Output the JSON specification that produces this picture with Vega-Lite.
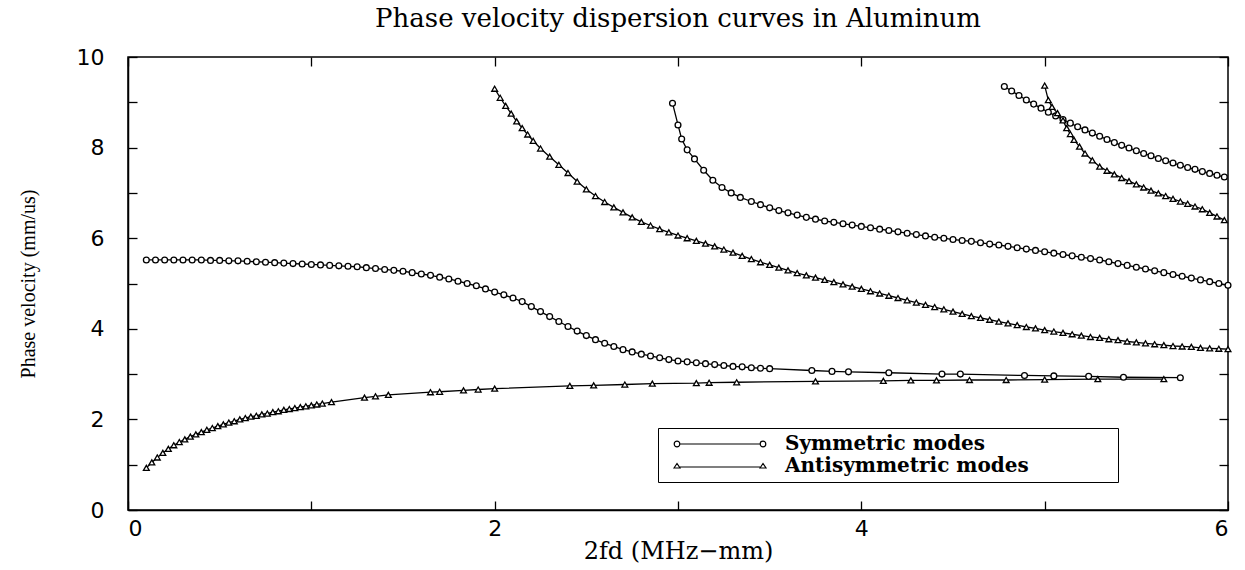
{
  "$schema": "https://vega.github.io/schema/vega-lite/v6.json",
  "width": 1100,
  "height": 453,
  "autosize": {"type": "none"},
  "padding": {"left": 128, "top": 57, "right": 17, "bottom": 60},
  "background": "white",
  "config": {
    "view": {"stroke": "black", "strokeWidth": 1.5},
    "axis": {"grid": false, "domainColor": "black", "tickColor": "black", "labelColor": "black", "titleColor": "black", "tickWidth": 1.3}
  },
  "title": {"text": "Phase velocity dispersion curves in Aluminum", "font": "DejaVu Serif", "fontSize": 26, "fontWeight": "normal", "color": "black", "offset": 14, "anchor": "middle"},
  "data": {"values": [
    {"mode":"S0","family":"Symmetric modes","fd":0.10,"vel":5.52},
    {"mode":"S0","family":"Symmetric modes","fd":0.15,"vel":5.52},
    {"mode":"S0","family":"Symmetric modes","fd":0.20,"vel":5.52},
    {"mode":"S0","family":"Symmetric modes","fd":0.25,"vel":5.52},
    {"mode":"S0","family":"Symmetric modes","fd":0.30,"vel":5.52},
    {"mode":"S0","family":"Symmetric modes","fd":0.35,"vel":5.52},
    {"mode":"S0","family":"Symmetric modes","fd":0.40,"vel":5.52},
    {"mode":"S0","family":"Symmetric modes","fd":0.45,"vel":5.51},
    {"mode":"S0","family":"Symmetric modes","fd":0.50,"vel":5.51},
    {"mode":"S0","family":"Symmetric modes","fd":0.55,"vel":5.50},
    {"mode":"S0","family":"Symmetric modes","fd":0.60,"vel":5.50},
    {"mode":"S0","family":"Symmetric modes","fd":0.65,"vel":5.49},
    {"mode":"S0","family":"Symmetric modes","fd":0.70,"vel":5.48},
    {"mode":"S0","family":"Symmetric modes","fd":0.75,"vel":5.47},
    {"mode":"S0","family":"Symmetric modes","fd":0.80,"vel":5.46},
    {"mode":"S0","family":"Symmetric modes","fd":0.85,"vel":5.45},
    {"mode":"S0","family":"Symmetric modes","fd":0.90,"vel":5.44},
    {"mode":"S0","family":"Symmetric modes","fd":0.95,"vel":5.43},
    {"mode":"S0","family":"Symmetric modes","fd":1.00,"vel":5.42},
    {"mode":"S0","family":"Symmetric modes","fd":1.05,"vel":5.41},
    {"mode":"S0","family":"Symmetric modes","fd":1.10,"vel":5.40},
    {"mode":"S0","family":"Symmetric modes","fd":1.15,"vel":5.39},
    {"mode":"S0","family":"Symmetric modes","fd":1.20,"vel":5.38},
    {"mode":"S0","family":"Symmetric modes","fd":1.25,"vel":5.37},
    {"mode":"S0","family":"Symmetric modes","fd":1.30,"vel":5.35},
    {"mode":"S0","family":"Symmetric modes","fd":1.35,"vel":5.33},
    {"mode":"S0","family":"Symmetric modes","fd":1.40,"vel":5.31},
    {"mode":"S0","family":"Symmetric modes","fd":1.45,"vel":5.29},
    {"mode":"S0","family":"Symmetric modes","fd":1.50,"vel":5.27},
    {"mode":"S0","family":"Symmetric modes","fd":1.55,"vel":5.24},
    {"mode":"S0","family":"Symmetric modes","fd":1.60,"vel":5.21},
    {"mode":"S0","family":"Symmetric modes","fd":1.65,"vel":5.18},
    {"mode":"S0","family":"Symmetric modes","fd":1.70,"vel":5.14},
    {"mode":"S0","family":"Symmetric modes","fd":1.75,"vel":5.10},
    {"mode":"S0","family":"Symmetric modes","fd":1.80,"vel":5.05},
    {"mode":"S0","family":"Symmetric modes","fd":1.85,"vel":5.00},
    {"mode":"S0","family":"Symmetric modes","fd":1.90,"vel":4.95},
    {"mode":"S0","family":"Symmetric modes","fd":1.95,"vel":4.88},
    {"mode":"S0","family":"Symmetric modes","fd":2.00,"vel":4.81},
    {"mode":"S0","family":"Symmetric modes","fd":2.05,"vel":4.75},
    {"mode":"S0","family":"Symmetric modes","fd":2.10,"vel":4.68},
    {"mode":"S0","family":"Symmetric modes","fd":2.15,"vel":4.60},
    {"mode":"S0","family":"Symmetric modes","fd":2.20,"vel":4.49},
    {"mode":"S0","family":"Symmetric modes","fd":2.25,"vel":4.38},
    {"mode":"S0","family":"Symmetric modes","fd":2.30,"vel":4.27},
    {"mode":"S0","family":"Symmetric modes","fd":2.35,"vel":4.16},
    {"mode":"S0","family":"Symmetric modes","fd":2.40,"vel":4.05},
    {"mode":"S0","family":"Symmetric modes","fd":2.45,"vel":3.95},
    {"mode":"S0","family":"Symmetric modes","fd":2.50,"vel":3.85},
    {"mode":"S0","family":"Symmetric modes","fd":2.55,"vel":3.76},
    {"mode":"S0","family":"Symmetric modes","fd":2.60,"vel":3.68},
    {"mode":"S0","family":"Symmetric modes","fd":2.65,"vel":3.61},
    {"mode":"S0","family":"Symmetric modes","fd":2.70,"vel":3.54},
    {"mode":"S0","family":"Symmetric modes","fd":2.75,"vel":3.49},
    {"mode":"S0","family":"Symmetric modes","fd":2.80,"vel":3.44},
    {"mode":"S0","family":"Symmetric modes","fd":2.85,"vel":3.40},
    {"mode":"S0","family":"Symmetric modes","fd":2.90,"vel":3.36},
    {"mode":"S0","family":"Symmetric modes","fd":2.95,"vel":3.32},
    {"mode":"S0","family":"Symmetric modes","fd":3.00,"vel":3.29},
    {"mode":"S0","family":"Symmetric modes","fd":3.05,"vel":3.27},
    {"mode":"S0","family":"Symmetric modes","fd":3.10,"vel":3.25},
    {"mode":"S0","family":"Symmetric modes","fd":3.15,"vel":3.23},
    {"mode":"S0","family":"Symmetric modes","fd":3.20,"vel":3.21},
    {"mode":"S0","family":"Symmetric modes","fd":3.25,"vel":3.19},
    {"mode":"S0","family":"Symmetric modes","fd":3.30,"vel":3.17},
    {"mode":"S0","family":"Symmetric modes","fd":3.35,"vel":3.16},
    {"mode":"S0","family":"Symmetric modes","fd":3.40,"vel":3.14},
    {"mode":"S0","family":"Symmetric modes","fd":3.45,"vel":3.13},
    {"mode":"S0","family":"Symmetric modes","fd":3.50,"vel":3.12},
    {"mode":"S0","family":"Symmetric modes","fd":3.73,"vel":3.08},
    {"mode":"S0","family":"Symmetric modes","fd":3.84,"vel":3.06},
    {"mode":"S0","family":"Symmetric modes","fd":3.93,"vel":3.05},
    {"mode":"S0","family":"Symmetric modes","fd":4.15,"vel":3.03},
    {"mode":"S0","family":"Symmetric modes","fd":4.44,"vel":3.00},
    {"mode":"S0","family":"Symmetric modes","fd":4.54,"vel":3.00},
    {"mode":"S0","family":"Symmetric modes","fd":4.89,"vel":2.97},
    {"mode":"S0","family":"Symmetric modes","fd":5.05,"vel":2.96},
    {"mode":"S0","family":"Symmetric modes","fd":5.24,"vel":2.95},
    {"mode":"S0","family":"Symmetric modes","fd":5.43,"vel":2.93},
    {"mode":"S0","family":"Symmetric modes","fd":5.74,"vel":2.92},
    {"mode":"A0","family":"Antisymmetric modes","fd":0.10,"vel":0.93},
    {"mode":"A0","family":"Antisymmetric modes","fd":0.13,"vel":1.05},
    {"mode":"A0","family":"Antisymmetric modes","fd":0.16,"vel":1.16},
    {"mode":"A0","family":"Antisymmetric modes","fd":0.19,"vel":1.26},
    {"mode":"A0","family":"Antisymmetric modes","fd":0.22,"vel":1.35},
    {"mode":"A0","family":"Antisymmetric modes","fd":0.25,"vel":1.43},
    {"mode":"A0","family":"Antisymmetric modes","fd":0.28,"vel":1.50},
    {"mode":"A0","family":"Antisymmetric modes","fd":0.31,"vel":1.56},
    {"mode":"A0","family":"Antisymmetric modes","fd":0.34,"vel":1.62},
    {"mode":"A0","family":"Antisymmetric modes","fd":0.37,"vel":1.67},
    {"mode":"A0","family":"Antisymmetric modes","fd":0.40,"vel":1.72},
    {"mode":"A0","family":"Antisymmetric modes","fd":0.43,"vel":1.77},
    {"mode":"A0","family":"Antisymmetric modes","fd":0.46,"vel":1.81},
    {"mode":"A0","family":"Antisymmetric modes","fd":0.49,"vel":1.85},
    {"mode":"A0","family":"Antisymmetric modes","fd":0.52,"vel":1.89},
    {"mode":"A0","family":"Antisymmetric modes","fd":0.55,"vel":1.93},
    {"mode":"A0","family":"Antisymmetric modes","fd":0.58,"vel":1.96},
    {"mode":"A0","family":"Antisymmetric modes","fd":0.61,"vel":2.00},
    {"mode":"A0","family":"Antisymmetric modes","fd":0.64,"vel":2.03},
    {"mode":"A0","family":"Antisymmetric modes","fd":0.67,"vel":2.06},
    {"mode":"A0","family":"Antisymmetric modes","fd":0.70,"vel":2.08},
    {"mode":"A0","family":"Antisymmetric modes","fd":0.73,"vel":2.11},
    {"mode":"A0","family":"Antisymmetric modes","fd":0.76,"vel":2.13},
    {"mode":"A0","family":"Antisymmetric modes","fd":0.79,"vel":2.16},
    {"mode":"A0","family":"Antisymmetric modes","fd":0.82,"vel":2.18},
    {"mode":"A0","family":"Antisymmetric modes","fd":0.85,"vel":2.21},
    {"mode":"A0","family":"Antisymmetric modes","fd":0.88,"vel":2.23},
    {"mode":"A0","family":"Antisymmetric modes","fd":0.91,"vel":2.25},
    {"mode":"A0","family":"Antisymmetric modes","fd":0.94,"vel":2.27},
    {"mode":"A0","family":"Antisymmetric modes","fd":0.97,"vel":2.29},
    {"mode":"A0","family":"Antisymmetric modes","fd":1.00,"vel":2.31},
    {"mode":"A0","family":"Antisymmetric modes","fd":1.03,"vel":2.33},
    {"mode":"A0","family":"Antisymmetric modes","fd":1.06,"vel":2.35},
    {"mode":"A0","family":"Antisymmetric modes","fd":1.11,"vel":2.38},
    {"mode":"A0","family":"Antisymmetric modes","fd":1.29,"vel":2.48},
    {"mode":"A0","family":"Antisymmetric modes","fd":1.35,"vel":2.51},
    {"mode":"A0","family":"Antisymmetric modes","fd":1.42,"vel":2.54},
    {"mode":"A0","family":"Antisymmetric modes","fd":1.65,"vel":2.60},
    {"mode":"A0","family":"Antisymmetric modes","fd":1.70,"vel":2.61},
    {"mode":"A0","family":"Antisymmetric modes","fd":1.83,"vel":2.64},
    {"mode":"A0","family":"Antisymmetric modes","fd":1.91,"vel":2.66},
    {"mode":"A0","family":"Antisymmetric modes","fd":2.00,"vel":2.68},
    {"mode":"A0","family":"Antisymmetric modes","fd":2.41,"vel":2.74},
    {"mode":"A0","family":"Antisymmetric modes","fd":2.54,"vel":2.75},
    {"mode":"A0","family":"Antisymmetric modes","fd":2.71,"vel":2.77},
    {"mode":"A0","family":"Antisymmetric modes","fd":2.86,"vel":2.79},
    {"mode":"A0","family":"Antisymmetric modes","fd":3.10,"vel":2.80},
    {"mode":"A0","family":"Antisymmetric modes","fd":3.17,"vel":2.81},
    {"mode":"A0","family":"Antisymmetric modes","fd":3.32,"vel":2.82},
    {"mode":"A0","family":"Antisymmetric modes","fd":3.75,"vel":2.84},
    {"mode":"A0","family":"Antisymmetric modes","fd":4.12,"vel":2.85},
    {"mode":"A0","family":"Antisymmetric modes","fd":4.27,"vel":2.86},
    {"mode":"A0","family":"Antisymmetric modes","fd":4.41,"vel":2.86},
    {"mode":"A0","family":"Antisymmetric modes","fd":4.59,"vel":2.87},
    {"mode":"A0","family":"Antisymmetric modes","fd":4.79,"vel":2.87},
    {"mode":"A0","family":"Antisymmetric modes","fd":5.00,"vel":2.88},
    {"mode":"A0","family":"Antisymmetric modes","fd":5.29,"vel":2.89},
    {"mode":"A0","family":"Antisymmetric modes","fd":5.65,"vel":2.89},
    {"mode":"A1","family":"Antisymmetric modes","fd":2.00,"vel":9.30},
    {"mode":"A1","family":"Antisymmetric modes","fd":2.03,"vel":9.10},
    {"mode":"A1","family":"Antisymmetric modes","fd":2.06,"vel":8.92},
    {"mode":"A1","family":"Antisymmetric modes","fd":2.09,"vel":8.75},
    {"mode":"A1","family":"Antisymmetric modes","fd":2.12,"vel":8.58},
    {"mode":"A1","family":"Antisymmetric modes","fd":2.15,"vel":8.43},
    {"mode":"A1","family":"Antisymmetric modes","fd":2.18,"vel":8.29},
    {"mode":"A1","family":"Antisymmetric modes","fd":2.21,"vel":8.15},
    {"mode":"A1","family":"Antisymmetric modes","fd":2.25,"vel":7.98},
    {"mode":"A1","family":"Antisymmetric modes","fd":2.30,"vel":7.80},
    {"mode":"A1","family":"Antisymmetric modes","fd":2.35,"vel":7.62},
    {"mode":"A1","family":"Antisymmetric modes","fd":2.40,"vel":7.44},
    {"mode":"A1","family":"Antisymmetric modes","fd":2.45,"vel":7.25},
    {"mode":"A1","family":"Antisymmetric modes","fd":2.50,"vel":7.08},
    {"mode":"A1","family":"Antisymmetric modes","fd":2.55,"vel":6.93},
    {"mode":"A1","family":"Antisymmetric modes","fd":2.60,"vel":6.80},
    {"mode":"A1","family":"Antisymmetric modes","fd":2.65,"vel":6.68},
    {"mode":"A1","family":"Antisymmetric modes","fd":2.70,"vel":6.57},
    {"mode":"A1","family":"Antisymmetric modes","fd":2.75,"vel":6.46},
    {"mode":"A1","family":"Antisymmetric modes","fd":2.80,"vel":6.36},
    {"mode":"A1","family":"Antisymmetric modes","fd":2.85,"vel":6.28},
    {"mode":"A1","family":"Antisymmetric modes","fd":2.90,"vel":6.20},
    {"mode":"A1","family":"Antisymmetric modes","fd":2.95,"vel":6.13},
    {"mode":"A1","family":"Antisymmetric modes","fd":3.00,"vel":6.06},
    {"mode":"A1","family":"Antisymmetric modes","fd":3.05,"vel":6.00},
    {"mode":"A1","family":"Antisymmetric modes","fd":3.10,"vel":5.94},
    {"mode":"A1","family":"Antisymmetric modes","fd":3.15,"vel":5.88},
    {"mode":"A1","family":"Antisymmetric modes","fd":3.20,"vel":5.82},
    {"mode":"A1","family":"Antisymmetric modes","fd":3.25,"vel":5.75},
    {"mode":"A1","family":"Antisymmetric modes","fd":3.30,"vel":5.68},
    {"mode":"A1","family":"Antisymmetric modes","fd":3.35,"vel":5.61},
    {"mode":"A1","family":"Antisymmetric modes","fd":3.40,"vel":5.54},
    {"mode":"A1","family":"Antisymmetric modes","fd":3.45,"vel":5.47},
    {"mode":"A1","family":"Antisymmetric modes","fd":3.50,"vel":5.41},
    {"mode":"A1","family":"Antisymmetric modes","fd":3.55,"vel":5.35},
    {"mode":"A1","family":"Antisymmetric modes","fd":3.60,"vel":5.29},
    {"mode":"A1","family":"Antisymmetric modes","fd":3.65,"vel":5.23},
    {"mode":"A1","family":"Antisymmetric modes","fd":3.70,"vel":5.18},
    {"mode":"A1","family":"Antisymmetric modes","fd":3.75,"vel":5.13},
    {"mode":"A1","family":"Antisymmetric modes","fd":3.80,"vel":5.08},
    {"mode":"A1","family":"Antisymmetric modes","fd":3.85,"vel":5.03},
    {"mode":"A1","family":"Antisymmetric modes","fd":3.90,"vel":4.98},
    {"mode":"A1","family":"Antisymmetric modes","fd":3.95,"vel":4.93},
    {"mode":"A1","family":"Antisymmetric modes","fd":4.00,"vel":4.88},
    {"mode":"A1","family":"Antisymmetric modes","fd":4.05,"vel":4.83},
    {"mode":"A1","family":"Antisymmetric modes","fd":4.10,"vel":4.78},
    {"mode":"A1","family":"Antisymmetric modes","fd":4.15,"vel":4.73},
    {"mode":"A1","family":"Antisymmetric modes","fd":4.20,"vel":4.68},
    {"mode":"A1","family":"Antisymmetric modes","fd":4.25,"vel":4.63},
    {"mode":"A1","family":"Antisymmetric modes","fd":4.30,"vel":4.58},
    {"mode":"A1","family":"Antisymmetric modes","fd":4.35,"vel":4.53},
    {"mode":"A1","family":"Antisymmetric modes","fd":4.40,"vel":4.48},
    {"mode":"A1","family":"Antisymmetric modes","fd":4.45,"vel":4.43},
    {"mode":"A1","family":"Antisymmetric modes","fd":4.50,"vel":4.38},
    {"mode":"A1","family":"Antisymmetric modes","fd":4.55,"vel":4.33},
    {"mode":"A1","family":"Antisymmetric modes","fd":4.60,"vel":4.28},
    {"mode":"A1","family":"Antisymmetric modes","fd":4.65,"vel":4.24},
    {"mode":"A1","family":"Antisymmetric modes","fd":4.70,"vel":4.20},
    {"mode":"A1","family":"Antisymmetric modes","fd":4.75,"vel":4.16},
    {"mode":"A1","family":"Antisymmetric modes","fd":4.80,"vel":4.12},
    {"mode":"A1","family":"Antisymmetric modes","fd":4.85,"vel":4.08},
    {"mode":"A1","family":"Antisymmetric modes","fd":4.90,"vel":4.04},
    {"mode":"A1","family":"Antisymmetric modes","fd":4.95,"vel":4.01},
    {"mode":"A1","family":"Antisymmetric modes","fd":5.00,"vel":3.97},
    {"mode":"A1","family":"Antisymmetric modes","fd":5.05,"vel":3.94},
    {"mode":"A1","family":"Antisymmetric modes","fd":5.10,"vel":3.91},
    {"mode":"A1","family":"Antisymmetric modes","fd":5.15,"vel":3.88},
    {"mode":"A1","family":"Antisymmetric modes","fd":5.20,"vel":3.85},
    {"mode":"A1","family":"Antisymmetric modes","fd":5.25,"vel":3.82},
    {"mode":"A1","family":"Antisymmetric modes","fd":5.30,"vel":3.80},
    {"mode":"A1","family":"Antisymmetric modes","fd":5.35,"vel":3.77},
    {"mode":"A1","family":"Antisymmetric modes","fd":5.40,"vel":3.75},
    {"mode":"A1","family":"Antisymmetric modes","fd":5.45,"vel":3.72},
    {"mode":"A1","family":"Antisymmetric modes","fd":5.50,"vel":3.70},
    {"mode":"A1","family":"Antisymmetric modes","fd":5.55,"vel":3.68},
    {"mode":"A1","family":"Antisymmetric modes","fd":5.60,"vel":3.66},
    {"mode":"A1","family":"Antisymmetric modes","fd":5.65,"vel":3.64},
    {"mode":"A1","family":"Antisymmetric modes","fd":5.70,"vel":3.62},
    {"mode":"A1","family":"Antisymmetric modes","fd":5.75,"vel":3.61},
    {"mode":"A1","family":"Antisymmetric modes","fd":5.80,"vel":3.60},
    {"mode":"A1","family":"Antisymmetric modes","fd":5.85,"vel":3.58},
    {"mode":"A1","family":"Antisymmetric modes","fd":5.90,"vel":3.57},
    {"mode":"A1","family":"Antisymmetric modes","fd":5.95,"vel":3.56},
    {"mode":"A1","family":"Antisymmetric modes","fd":6.00,"vel":3.55},
    {"mode":"S1","family":"Symmetric modes","fd":2.97,"vel":8.98},
    {"mode":"S1","family":"Symmetric modes","fd":3.00,"vel":8.50},
    {"mode":"S1","family":"Symmetric modes","fd":3.02,"vel":8.19},
    {"mode":"S1","family":"Symmetric modes","fd":3.05,"vel":7.95},
    {"mode":"S1","family":"Symmetric modes","fd":3.09,"vel":7.75},
    {"mode":"S1","family":"Symmetric modes","fd":3.14,"vel":7.50},
    {"mode":"S1","family":"Symmetric modes","fd":3.19,"vel":7.28},
    {"mode":"S1","family":"Symmetric modes","fd":3.24,"vel":7.12},
    {"mode":"S1","family":"Symmetric modes","fd":3.29,"vel":7.00},
    {"mode":"S1","family":"Symmetric modes","fd":3.34,"vel":6.90},
    {"mode":"S1","family":"Symmetric modes","fd":3.40,"vel":6.81},
    {"mode":"S1","family":"Symmetric modes","fd":3.45,"vel":6.74},
    {"mode":"S1","family":"Symmetric modes","fd":3.50,"vel":6.67},
    {"mode":"S1","family":"Symmetric modes","fd":3.55,"vel":6.61},
    {"mode":"S1","family":"Symmetric modes","fd":3.60,"vel":6.56},
    {"mode":"S1","family":"Symmetric modes","fd":3.65,"vel":6.51},
    {"mode":"S1","family":"Symmetric modes","fd":3.70,"vel":6.46},
    {"mode":"S1","family":"Symmetric modes","fd":3.75,"vel":6.42},
    {"mode":"S1","family":"Symmetric modes","fd":3.80,"vel":6.38},
    {"mode":"S1","family":"Symmetric modes","fd":3.85,"vel":6.35},
    {"mode":"S1","family":"Symmetric modes","fd":3.90,"vel":6.32},
    {"mode":"S1","family":"Symmetric modes","fd":3.95,"vel":6.29},
    {"mode":"S1","family":"Symmetric modes","fd":4.00,"vel":6.26},
    {"mode":"S1","family":"Symmetric modes","fd":4.05,"vel":6.23},
    {"mode":"S1","family":"Symmetric modes","fd":4.10,"vel":6.20},
    {"mode":"S1","family":"Symmetric modes","fd":4.15,"vel":6.17},
    {"mode":"S1","family":"Symmetric modes","fd":4.20,"vel":6.14},
    {"mode":"S1","family":"Symmetric modes","fd":4.25,"vel":6.11},
    {"mode":"S1","family":"Symmetric modes","fd":4.30,"vel":6.08},
    {"mode":"S1","family":"Symmetric modes","fd":4.35,"vel":6.05},
    {"mode":"S1","family":"Symmetric modes","fd":4.40,"vel":6.02},
    {"mode":"S1","family":"Symmetric modes","fd":4.45,"vel":6.00},
    {"mode":"S1","family":"Symmetric modes","fd":4.50,"vel":5.97},
    {"mode":"S1","family":"Symmetric modes","fd":4.55,"vel":5.95},
    {"mode":"S1","family":"Symmetric modes","fd":4.60,"vel":5.93},
    {"mode":"S1","family":"Symmetric modes","fd":4.65,"vel":5.90},
    {"mode":"S1","family":"Symmetric modes","fd":4.70,"vel":5.87},
    {"mode":"S1","family":"Symmetric modes","fd":4.75,"vel":5.85},
    {"mode":"S1","family":"Symmetric modes","fd":4.80,"vel":5.82},
    {"mode":"S1","family":"Symmetric modes","fd":4.85,"vel":5.79},
    {"mode":"S1","family":"Symmetric modes","fd":4.90,"vel":5.76},
    {"mode":"S1","family":"Symmetric modes","fd":4.95,"vel":5.73},
    {"mode":"S1","family":"Symmetric modes","fd":5.00,"vel":5.70},
    {"mode":"S1","family":"Symmetric modes","fd":5.05,"vel":5.67},
    {"mode":"S1","family":"Symmetric modes","fd":5.10,"vel":5.64},
    {"mode":"S1","family":"Symmetric modes","fd":5.15,"vel":5.61},
    {"mode":"S1","family":"Symmetric modes","fd":5.20,"vel":5.58},
    {"mode":"S1","family":"Symmetric modes","fd":5.25,"vel":5.55},
    {"mode":"S1","family":"Symmetric modes","fd":5.30,"vel":5.52},
    {"mode":"S1","family":"Symmetric modes","fd":5.35,"vel":5.48},
    {"mode":"S1","family":"Symmetric modes","fd":5.40,"vel":5.44},
    {"mode":"S1","family":"Symmetric modes","fd":5.45,"vel":5.40},
    {"mode":"S1","family":"Symmetric modes","fd":5.50,"vel":5.36},
    {"mode":"S1","family":"Symmetric modes","fd":5.55,"vel":5.32},
    {"mode":"S1","family":"Symmetric modes","fd":5.60,"vel":5.28},
    {"mode":"S1","family":"Symmetric modes","fd":5.65,"vel":5.24},
    {"mode":"S1","family":"Symmetric modes","fd":5.70,"vel":5.20},
    {"mode":"S1","family":"Symmetric modes","fd":5.75,"vel":5.16},
    {"mode":"S1","family":"Symmetric modes","fd":5.80,"vel":5.12},
    {"mode":"S1","family":"Symmetric modes","fd":5.85,"vel":5.08},
    {"mode":"S1","family":"Symmetric modes","fd":5.90,"vel":5.04},
    {"mode":"S1","family":"Symmetric modes","fd":5.95,"vel":5.00},
    {"mode":"S1","family":"Symmetric modes","fd":6.00,"vel":4.96},
    {"mode":"S2","family":"Symmetric modes","fd":4.78,"vel":9.35},
    {"mode":"S2","family":"Symmetric modes","fd":4.82,"vel":9.25},
    {"mode":"S2","family":"Symmetric modes","fd":4.86,"vel":9.15},
    {"mode":"S2","family":"Symmetric modes","fd":4.90,"vel":9.05},
    {"mode":"S2","family":"Symmetric modes","fd":4.94,"vel":8.96},
    {"mode":"S2","family":"Symmetric modes","fd":4.98,"vel":8.87},
    {"mode":"S2","family":"Symmetric modes","fd":5.02,"vel":8.78},
    {"mode":"S2","family":"Symmetric modes","fd":5.06,"vel":8.70},
    {"mode":"S2","family":"Symmetric modes","fd":5.10,"vel":8.62},
    {"mode":"S2","family":"Symmetric modes","fd":5.14,"vel":8.54},
    {"mode":"S2","family":"Symmetric modes","fd":5.18,"vel":8.46},
    {"mode":"S2","family":"Symmetric modes","fd":5.22,"vel":8.39},
    {"mode":"S2","family":"Symmetric modes","fd":5.26,"vel":8.32},
    {"mode":"S2","family":"Symmetric modes","fd":5.30,"vel":8.25},
    {"mode":"S2","family":"Symmetric modes","fd":5.34,"vel":8.18},
    {"mode":"S2","family":"Symmetric modes","fd":5.38,"vel":8.11},
    {"mode":"S2","family":"Symmetric modes","fd":5.42,"vel":8.05},
    {"mode":"S2","family":"Symmetric modes","fd":5.46,"vel":7.99},
    {"mode":"S2","family":"Symmetric modes","fd":5.50,"vel":7.93},
    {"mode":"S2","family":"Symmetric modes","fd":5.54,"vel":7.87},
    {"mode":"S2","family":"Symmetric modes","fd":5.58,"vel":7.82},
    {"mode":"S2","family":"Symmetric modes","fd":5.62,"vel":7.76},
    {"mode":"S2","family":"Symmetric modes","fd":5.66,"vel":7.71},
    {"mode":"S2","family":"Symmetric modes","fd":5.70,"vel":7.66},
    {"mode":"S2","family":"Symmetric modes","fd":5.74,"vel":7.61},
    {"mode":"S2","family":"Symmetric modes","fd":5.78,"vel":7.56},
    {"mode":"S2","family":"Symmetric modes","fd":5.82,"vel":7.52},
    {"mode":"S2","family":"Symmetric modes","fd":5.86,"vel":7.47},
    {"mode":"S2","family":"Symmetric modes","fd":5.90,"vel":7.43},
    {"mode":"S2","family":"Symmetric modes","fd":5.94,"vel":7.39},
    {"mode":"S2","family":"Symmetric modes","fd":5.98,"vel":7.35},
    {"mode":"A2","family":"Antisymmetric modes","fd":5.00,"vel":9.37},
    {"mode":"A2","family":"Antisymmetric modes","fd":5.02,"vel":9.05},
    {"mode":"A2","family":"Antisymmetric modes","fd":5.04,"vel":8.90},
    {"mode":"A2","family":"Antisymmetric modes","fd":5.07,"vel":8.76},
    {"mode":"A2","family":"Antisymmetric modes","fd":5.10,"vel":8.60},
    {"mode":"A2","family":"Antisymmetric modes","fd":5.12,"vel":8.43},
    {"mode":"A2","family":"Antisymmetric modes","fd":5.14,"vel":8.30},
    {"mode":"A2","family":"Antisymmetric modes","fd":5.16,"vel":8.17},
    {"mode":"A2","family":"Antisymmetric modes","fd":5.19,"vel":8.02},
    {"mode":"A2","family":"Antisymmetric modes","fd":5.22,"vel":7.87},
    {"mode":"A2","family":"Antisymmetric modes","fd":5.26,"vel":7.72},
    {"mode":"A2","family":"Antisymmetric modes","fd":5.30,"vel":7.58},
    {"mode":"A2","family":"Antisymmetric modes","fd":5.34,"vel":7.49},
    {"mode":"A2","family":"Antisymmetric modes","fd":5.38,"vel":7.41},
    {"mode":"A2","family":"Antisymmetric modes","fd":5.42,"vel":7.33},
    {"mode":"A2","family":"Antisymmetric modes","fd":5.46,"vel":7.26},
    {"mode":"A2","family":"Antisymmetric modes","fd":5.50,"vel":7.19},
    {"mode":"A2","family":"Antisymmetric modes","fd":5.54,"vel":7.12},
    {"mode":"A2","family":"Antisymmetric modes","fd":5.58,"vel":7.05},
    {"mode":"A2","family":"Antisymmetric modes","fd":5.62,"vel":6.99},
    {"mode":"A2","family":"Antisymmetric modes","fd":5.66,"vel":6.93},
    {"mode":"A2","family":"Antisymmetric modes","fd":5.70,"vel":6.87},
    {"mode":"A2","family":"Antisymmetric modes","fd":5.74,"vel":6.81},
    {"mode":"A2","family":"Antisymmetric modes","fd":5.78,"vel":6.76},
    {"mode":"A2","family":"Antisymmetric modes","fd":5.82,"vel":6.70},
    {"mode":"A2","family":"Antisymmetric modes","fd":5.86,"vel":6.64},
    {"mode":"A2","family":"Antisymmetric modes","fd":5.90,"vel":6.56},
    {"mode":"A2","family":"Antisymmetric modes","fd":5.94,"vel":6.48},
    {"mode":"A2","family":"Antisymmetric modes","fd":5.98,"vel":6.40}
  ]},
  "layer": [
    {
      "mark": {"type": "line", "color": "black", "strokeWidth": 1.3},
      "encoding": {
        "x": {"field": "fd", "type": "quantitative", "scale": {"domain": [0, 6], "nice": false},
          "axis": {"title": "2fd (MHz−mm)", "orient": "bottom", "values": [0, 1, 2, 3, 4, 5, 6],
            "labelExpr": "datum.value % 2 == 0 ? datum.label : ''",
            "tickSize": -9,
            "domainWidth": 1.5, "labelFont": "DejaVu Sans", "labelFontSize": 22, "labelPadding": 17,
            "titleFont": "DejaVu Serif", "titleFontSize": 24, "titleFontWeight": "normal", "titlePadding": 0}},
        "y": {"field": "vel", "type": "quantitative", "scale": {"domain": [0, 10], "nice": false},
          "axis": {"title": "Phase velocity (mm/us)", "orient": "left", "values": [0, 1, 2, 3, 4, 5, 6, 7, 8, 9, 10],
            "labelExpr": "datum.value % 2 == 0 ? datum.label : ''",
            "tickSize": -9,
            "domainWidth": 1.5, "labelFont": "DejaVu Sans", "labelFontSize": 22, "labelPadding": 33,
            "titleFont": "Liberation Serif", "titleFontSize": 20, "titleFontWeight": "normal", "titlePadding": 38}},
        "detail": {"field": "mode"}
      }
    },
    {
      "mark": {"type": "point", "filled": false, "fill": "white", "fillOpacity": 1, "stroke": "black", "strokeWidth": 1.3, "size": 34, "opacity": 1},
      "encoding": {
        "x": {"field": "fd", "type": "quantitative",
          "axis": {"orient": "top", "title": null, "labels": false, "domain": false, "values": [0, 1, 2, 3, 4, 5, 6], "tickSize": -9}},
        "y": {"field": "vel", "type": "quantitative",
          "axis": {"orient": "right", "title": null, "labels": false, "domain": false, "values": [0, 1, 2, 3, 4, 5, 6, 7, 8, 9, 10], "tickSize": -9}},
        "shape": {"field": "family", "type": "nominal",
          "scale": {"domain": ["Symmetric modes", "Antisymmetric modes"], "range": ["circle", "triangle-up"]},
          "legend": null}
      }
    },
    {
      "transform": [{"filter": "datum.fd < 0"}],
      "mark": {"type": "point", "filled": false, "stroke": "black"},
      "encoding": {
        "x": {"field": "fd", "type": "quantitative", "axis": null},
        "y": {"field": "vel", "type": "quantitative", "axis": null},
        "shape": {"field": "family", "type": "nominal",
          "scale": {"domain": ["Symmetric modes", "Antisymmetric modes"],
            "range": ["M0.2,0a2.8,2.8 0 1,0 5.6,0a2.8,2.8 0 1,0 -5.6,0M5.8,0H86.2M86.2,0a2.8,2.8 0 1,0 5.6,0a2.8,2.8 0 1,0 -5.6,0M435,0",
                      "M0,2L3,-2.5L6,2ZM6,1H86M86,2L89,-2.5L92,2ZM435,0"]},
          "legend": {"title": null, "orient": "none", "legendX": 530, "legendY": 371, "strokeColor": "black",
            "fillColor": "white", "padding": 6, "rowPadding": 2, "symbolSize": 4, "symbolStrokeWidth": 1.2,
            "symbolStrokeColor": "black", "symbolFillColor": "white", "symbolOpacity": 1, "labelOffset": 101, "labelLimit": 600,
            "labelFont": "DejaVu Serif", "labelFontWeight": "bold", "labelFontSize": 20, "labelColor": "black"}
        }
      }
    }
  ],
  "resolve": {"axis": {"x": "independent", "y": "independent"}, "scale": {"shape": "independent"}, "legend": {"shape": "independent"}}
}
